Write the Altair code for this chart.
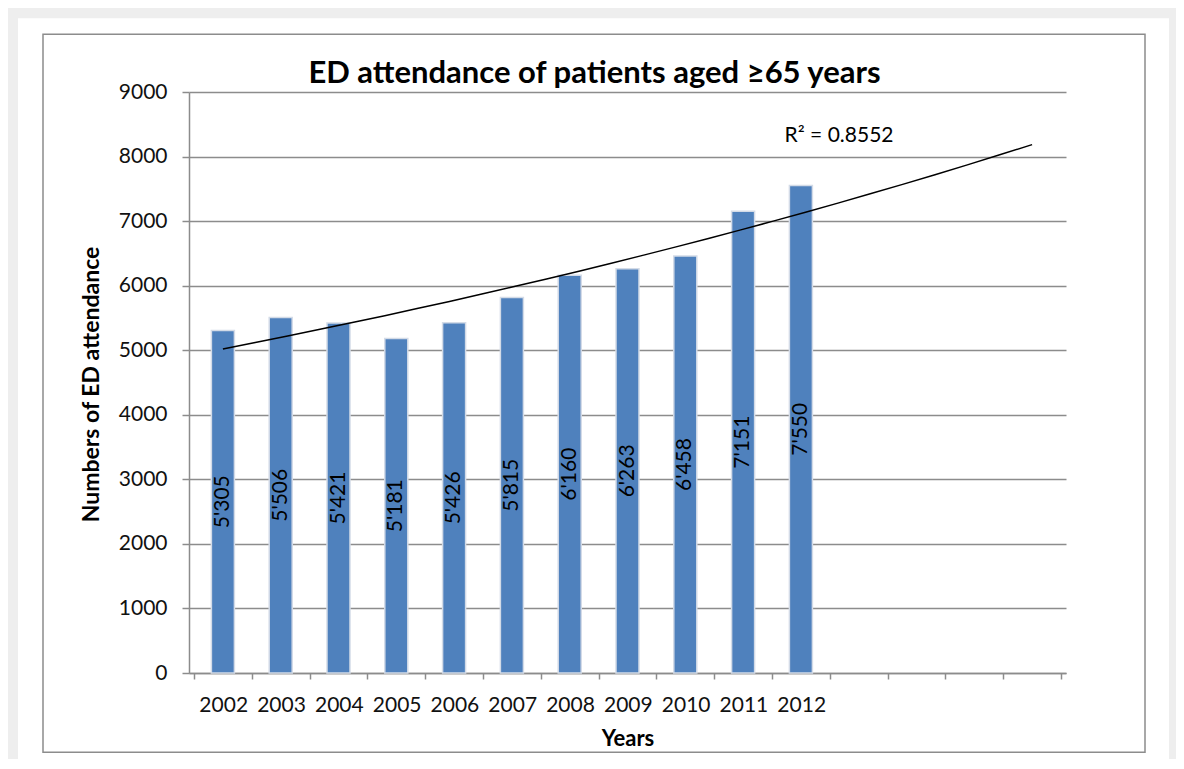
import altair as alt
import pandas as pd

# ---- data ----
years = [2002, 2003, 2004, 2005, 2006, 2007, 2008, 2009, 2010, 2011, 2012]
attendance = [5305, 5506, 5421, 5181, 5426, 5815, 6160, 6263, 6458, 7151, 7550]
bar_labels = ["5'305", "5'506", "5'421", "5'181", "5'426", "5'815",
              "6'160", "6'263", "6'458", "7'151", "7'550"]
y_ticks = [0, 1000, 2000, 3000, 4000, 5000, 6000, 7000, 8000, 9000]
slot_edges = [0.5, 1.5, 2.5, 3.5, 4.5, 5.5, 6.5, 7.5, 8.5, 9.5, 10.5,
              11.5, 12.5, 13.5, 14.5, 15.5]
title_text = "ED attendance of patients aged \u226565 years"
r2_text = "R\u00b2 = 0.8552"

df = pd.DataFrame({
    "idx": list(range(1, len(years) + 1)),
    "year": years,
    "value": attendance,
    "label": bar_labels,
})

FONT = "Lato"
GRID = "#8c8c8c"
YTITLE = "Numbers of ED attendance"
XTITLE = "Years"

x_scale = alt.Scale(domain=[0.5, 15.5], nice=False, zero=False)
y_scale = alt.Scale(domain=[0, 9000], nice=False)

x_axis = alt.Axis(
    values=slot_edges,
    labelExpr="datum.value < 11 ? toString(datum.value + 2001.5) : ''",
    labelOffset=29.23, labelFlush=False, labelOverlap=False,
    tickSize=6, tickColor=GRID, tickWidth=1.5,
    domainColor=GRID, domainWidth=1.5, grid=False,
    labelPadding=15, labelFont=FONT, labelFontSize=21, labelColor="#111111",
    title=XTITLE, titleFont=FONT, titleFontSize=22, titleFontWeight="bold",
    titleColor="#000000", titleBaseline="alphabetic", titleY=72.7,
)
y_axis = alt.Axis(
    values=y_ticks, format="d", grid=True, gridColor=GRID, gridWidth=1.5,
    tickSize=7, tickColor=GRID, tickWidth=1.5,
    domainColor=GRID, domainWidth=1.5,
    labelPadding=15, labelFont=FONT, labelFontSize=21, labelColor="#111111",
    title=YTITLE, titleFont=FONT, titleFontSize=23, titleFontWeight="bold",
    titleColor="#000000", titleBaseline="alphabetic", titleX=-91, titleY=292,
)

one = pd.DataFrame({"k": [0]})

frame_top = alt.Chart(one).mark_rect(color="#eeeeee").encode(
    x=alt.value(-250), x2=alt.value(1300), y=alt.value(-120), y2=alt.value(-73.7))
frame_left = alt.Chart(one).mark_rect(color="#eeeeee").encode(
    x=alt.value(-250), x2=alt.value(-171), y=alt.value(-120), y2=alt.value(800))
frame_right = alt.Chart(one).mark_rect(color="#eeeeee").encode(
    x=alt.value(980), x2=alt.value(1300), y=alt.value(-120), y2=alt.value(800))
border = alt.Chart(one).mark_rect(filled=False, stroke=GRID, strokeWidth=1.5).encode(
    x=alt.value(-146), x2=alt.value(956), y=alt.value(-57.7), y2=alt.value(660.3))

title = alt.Chart(pd.DataFrame({"t": [title_text]})).mark_text(
    font=FONT, fontSize=31, fontWeight="bold", color="#000000",
    align="center", baseline="alphabetic"
).encode(x=alt.value(405.5), y=alt.value(-8.7), text="t:N")

bars = alt.Chart(df).mark_bar(
    size=23, color="#4F81BD", stroke="#d3dbe7", strokeWidth=1.5
).encode(
    x=alt.X("idx:Q", scale=x_scale, axis=x_axis, title=XTITLE),
    y=alt.Y("value:Q", scale=y_scale, axis=y_axis, title=YTITLE),
)

labels = alt.Chart(df).transform_calculate(
    mid="datum.value / 2"
).mark_text(angle=270, font=FONT, fontSize=21, color="#000000",
            align="center", baseline="middle").encode(
    x=alt.X("idx:Q", title=XTITLE),
    y=alt.Y("mid:Q", title=YTITLE),
    text="label:N",
)

# Excel-style exponential trendline: least squares on log(value)
trend = alt.Chart(df).transform_calculate(
    ly="log(datum.value)"
).transform_regression(
    "idx", "ly", method="poly", order=1, extent=[1, 15]
).transform_calculate(
    fit="exp(datum.ly)"
).mark_line(color="#000000", strokeWidth=1.5).encode(
    x=alt.X("idx:Q", title=XTITLE),
    y=alt.Y("fit:Q", title=YTITLE),
)

r2 = alt.Chart(pd.DataFrame({"idx": [11.66], "value": [8225], "text": [r2_text]})).mark_text(
    font=FONT, fontSize=21, color="#000000", align="center", baseline="alphabetic"
).encode(
    x=alt.X("idx:Q", title=XTITLE),
    y=alt.Y("value:Q", title=YTITLE),
    text="text:N",
)

chart = alt.layer(
    frame_top, frame_left, frame_right, border, title, bars, labels, trend, r2
).properties(
    width=877, height=581,
    padding={"left": 181, "top": 84, "right": 110, "bottom": 86},
    autosize=alt.AutoSizeParams(type="none"),
    background="white",
).configure_view(stroke="transparent")

chart.save("out.html", embed_options={"renderer": "svg", "actions": False})
